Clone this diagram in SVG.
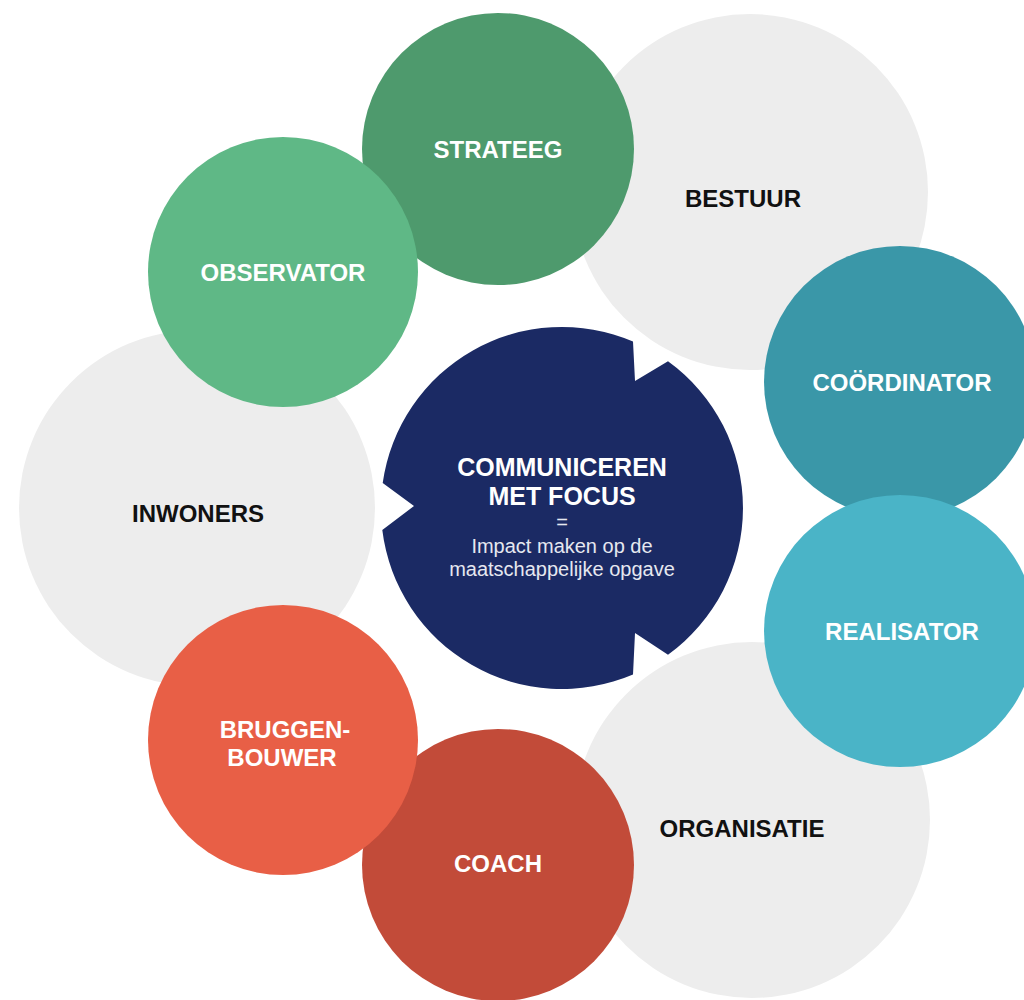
<svg xmlns="http://www.w3.org/2000/svg" width="1024" height="1000" viewBox="0 0 1024 1000">
<style>
.lbl{font-family:"Liberation Sans",Arial,sans-serif;font-weight:bold;font-size:24px;text-anchor:middle}
.title{font-size:25px}
.dark{fill:#111111}
.light{fill:#ffffff}
.sub{font-family:"Liberation Sans",Arial,sans-serif;font-size:20px;text-anchor:middle;fill:#e6e8f0}
.gray{fill:#ededed}
</style>
<rect width="1024" height="1000" fill="#ffffff"/>
<g id="connectors"></g>
<g id="bestuur"><circle class="gray" cx="750" cy="192" r="178"/><text class="lbl dark" x="743" y="207">BESTUUR</text></g>
<g id="inwoners"><circle class="gray" cx="197" cy="508" r="178"/><text class="lbl dark" x="198" y="522">INWONERS</text></g>
<g id="organisatie"><circle class="gray" cx="752" cy="820" r="178"/><text class="lbl dark" x="742" y="837">ORGANISATIE</text></g>
<g id="strateeg"><circle fill="#4e9a6d" cx="498" cy="149" r="136"/><text class="lbl light" x="498" y="158">STRATEEG</text></g>
<g id="observator"><circle fill="#5fb886" cx="283" cy="272" r="135"/><text class="lbl light" x="283" y="281">OBSERVATOR</text></g>
<g id="coordinator"><circle fill="#3a97a8" cx="900" cy="382" r="136"/><text class="lbl light" x="902" y="391">COÖRDINATOR</text></g>
<g id="realisator"><circle fill="#4ab4c7" cx="900" cy="631" r="136"/><text class="lbl light" x="902" y="640">REALISATOR</text></g>
<g id="coach"><circle fill="#c24b39" cx="498" cy="865" r="136"/><text class="lbl light" x="498" y="872">COACH</text></g>
<g id="bruggenbouwer"><circle fill="#e85f46" cx="283" cy="740" r="135"/><text class="lbl light" x="285" y="738">BRUGGEN-</text><text class="lbl light" x="282" y="766">BOUWER</text></g>
<g id="center">
<path fill="#1b2a64" d="M668,361.3 A181,181 0 0 1 668,654.7 L635,633 L633,674.5 A181,181 0 0 1 382.3,530 L414,506 L382.7,483 A181,181 0 0 1 633,341.5 L635,381 Z"/>
<text class="lbl title light" x="562" y="476">COMMUNICEREN</text>
<text class="lbl title light" x="562" y="505">MET FOCUS</text>
<text class="sub" x="562" y="529">=</text>
<text class="sub" x="562" y="553">Impact maken op de</text>
<text class="sub" x="562" y="576">maatschappelijke opgave</text>
</g>
</svg>
